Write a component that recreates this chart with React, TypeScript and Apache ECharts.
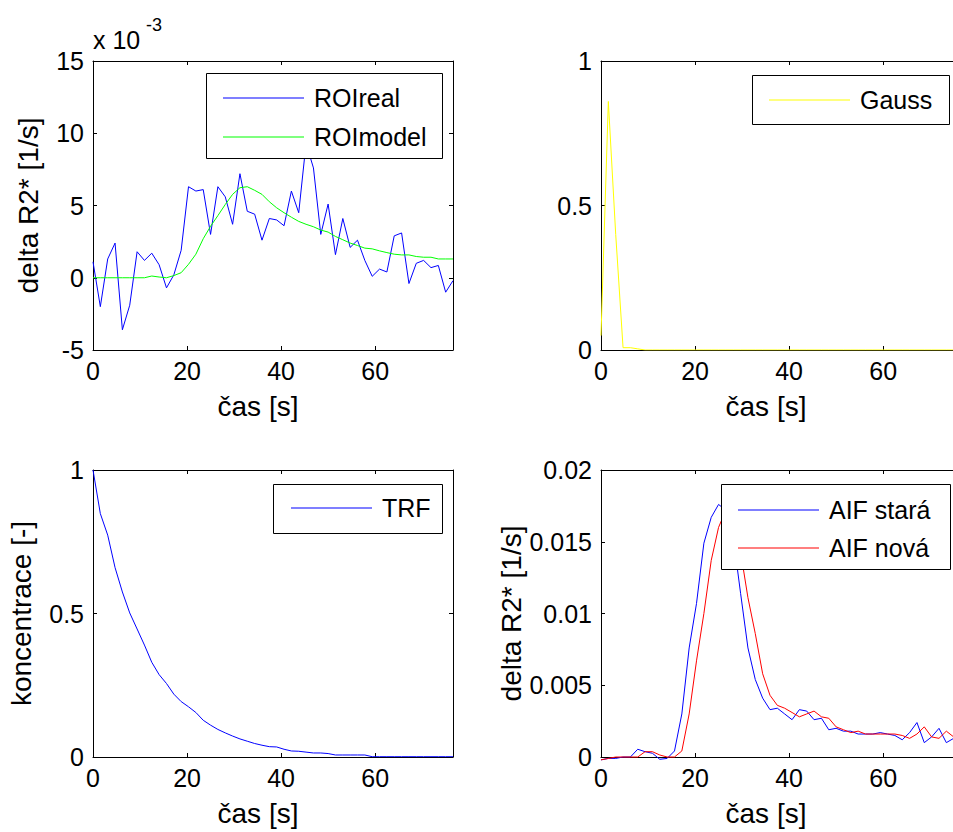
import React, { useEffect, useRef } from "react";
import * as echarts from "echarts";

const FONT = "'Liberation Sans', Arial, Helvetica, sans-serif";

// sample times [s]
const TIMES = [
  0, 1.56, 3.13, 4.69, 6.25, 7.81, 9.38, 10.94, 12.5, 14.06,
  15.63, 17.19, 18.75, 20.31, 21.88, 23.44, 25, 26.56, 28.13, 29.69,
  31.25, 32.81, 34.38, 35.94, 37.5, 39.06, 40.63, 42.19, 43.75, 45.31,
  46.88, 48.44, 50, 51.56, 53.13, 54.69, 56.25, 57.81, 59.38, 60.94,
  62.5, 64.06, 65.63, 67.19, 68.75, 70.31, 71.88, 73.44, 75, 76.56,
];
const T_MAX = 76.56;
const X_TICKS_STEP = 20;

// top-left: values in units of 1e-3
const ROI_REAL = [
  1.1, -2.0, 1.3, 2.4, -3.6, -1.9, 1.8, 1.2, 1.7, 0.9,
  -0.7, 0.2, 1.9, 6.3, 6.0, 6.1, 3.0, 6.3, 5.6, 3.7,
  7.2, 4.6, 4.4, 2.6, 4.1, 4.0, 3.6, 6.0, 4.5, 9.3,
  7.6, 3.0, 5.1, 1.6, 4.1, 2.1, 2.6, 1.2, 0.1, 0.6,
  0.4, 2.9, 3.1, -0.4, 1.0, 1.2, 0.7, 0.85, -1.0, -0.2,
];
const ROI_MODEL = [
  0, 0, 0, 0, 0, 0, 0, 0, 0.12, 0.05,
  0, 0.15, 0.35, 0.93, 1.63, 2.7, 3.56, 4.3, 5.07, 5.77,
  6.23, 6.3, 6.05, 5.77, 5.26, 4.84, 4.5, 4.19, 3.9, 3.7,
  3.53, 3.3, 3.16, 2.86, 2.63, 2.4, 2.23, 2.05, 2.0, 1.86,
  1.74, 1.63, 1.58, 1.58, 1.47, 1.42, 1.42, 1.3, 1.3, 1.3,
];
// top-right
const GAUSS = [
  0.05, 0.86, 0.4, 0.008, 0.008, 0.004, 0, 0, 0, 0,
  0, 0, 0, 0, 0, 0, 0, 0, 0, 0,
  0, 0, 0, 0, 0, 0, 0, 0, 0, 0,
  0, 0, 0, 0, 0, 0, 0, 0, 0, 0,
  0, 0, 0, 0, 0, 0, 0, 0, 0, 0,
];
// bottom-left
const TRF = [
  1.0, 0.848, 0.773, 0.66, 0.575, 0.502, 0.446, 0.39, 0.33, 0.287,
  0.256, 0.219, 0.193, 0.175, 0.155, 0.128, 0.111, 0.096, 0.084, 0.073,
  0.063, 0.055, 0.047, 0.041, 0.036, 0.035, 0.027, 0.021, 0.02, 0.017,
  0.014, 0.014, 0.012, 0.007, 0.007, 0.007, 0.007, 0.007, 0.001, 0.001,
  0.001, 0.001, 0.001, 0.001, 0.001, 0.001, 0.001, 0.001, 0.001, 0.001,
];
// bottom-right
const AIF_OLD = [
  -0.0002, -0.0001, -0.0001, 0, 0, 0.00054, 0.00037, 0.00026, -0.00016, -0.0001,
  0.00042, 0.003, 0.0076, 0.0107, 0.0149, 0.0167, 0.0176, 0.0172, 0.0153, 0.0114,
  0.0076, 0.0054, 0.0041, 0.0033, 0.0034, 0.003, 0.0026, 0.0033, 0.0032, 0.0026,
  0.0027, 0.0019, 0.002, 0.0018, 0.0018, 0.0016, 0.0016, 0.0016, 0.0017, 0.0016,
  0.0015, 0.0012, 0.0017, 0.0024, 0.001, 0.0014, 0.002, 0.001, 0.0013, 0.0013,
];
const AIF_NEW = [
  -0.0002, -0.0001, 0, 0, 0, 0, 0.00037, 0.00037, 0.00014, 0,
  0, 0.00042, 0.003, 0.0067, 0.01, 0.0137, 0.016, 0.0172, 0.0174, 0.0143,
  0.0111, 0.0086, 0.0058, 0.0043, 0.0036, 0.0034, 0.0031, 0.0028, 0.003, 0.0032,
  0.0028, 0.0027, 0.0021, 0.0019, 0.0017, 0.0018, 0.0016, 0.0016, 0.0016, 0.0016,
  0.0016, 0.0015, 0.0013, 0.0016, 0.0021, 0.0014, 0.0013, 0.0018, 0.0014, 0.0013,
];

const GRIDS = [
  { left: 93, top: 61, width: 360, height: 289 },
  { left: 601, top: 61, width: 360, height: 289 },
  { left: 93, top: 470, width: 360, height: 287 },
  { left: 601, top: 470, width: 360, height: 287 },
];

const Y_RANGES = [
  { min: -5, max: 15, interval: 5 },
  { min: 0, max: 1, interval: 0.5 },
  { min: 0, max: 1, interval: 0.5 },
  { min: 0, max: 0.02, interval: 0.005 },
];
const Y_NAMES = ["delta R2* [1/s]", "", "koncentrace [-]", "delta R2* [1/s]"];
const Y_NAME_GAPS = [51, 40, 58, 42];
const X_NAME = "čas [s]";

const pairs = (vals: number[]) => TIMES.map((t, i) => [t, vals[i]]);

function buildOption() {
  const axisLine = { show: true, onZero: false, lineStyle: { color: "#000", width: 1 } };
  const axisTick = { show: true, inside: true, length: 4, lineStyle: { color: "#000", width: 1 } };
  const xAxis: any[] = [];
  const yAxis: any[] = [];
  GRIDS.forEach((_, g) => {
    xAxis.push({
      type: "value",
      gridIndex: g,
      position: "bottom",
      min: 0,
      max: T_MAX,
      interval: X_TICKS_STEP,
      axisLine,
      axisTick,
      splitLine: { show: false },
      axisLabel: {
        margin: 8,
        fontSize: 25,
        color: "#000",
        fontFamily: FONT,
        formatter: (v: number) => (Math.abs(v % X_TICKS_STEP) < 1e-9 ? String(v) : ""),
      },
      name: X_NAME,
      nameLocation: "middle",
      nameGap: 42,
      nameTextStyle: { fontSize: 28, color: "#000", fontFamily: FONT, padding: [0, 30, 0, 0] },
    });
    xAxis.push({
      type: "value",
      gridIndex: g,
      position: "top",
      min: 0,
      max: T_MAX,
      interval: X_TICKS_STEP,
      axisLine,
      axisTick,
      splitLine: { show: false },
      axisLabel: { show: false },
    });
    const yr = Y_RANGES[g];
    yAxis.push({
      type: "value",
      gridIndex: g,
      position: "left",
      min: yr.min,
      max: yr.max,
      interval: yr.interval,
      axisLine,
      axisTick,
      splitLine: { show: false },
      axisLabel: { margin: 9, fontSize: 25, color: "#000", fontFamily: FONT },
      name: Y_NAMES[g],
      nameLocation: "middle",
      nameGap: Y_NAME_GAPS[g],
      nameTextStyle: { fontSize: 28, color: "#000", fontFamily: FONT },
    });
    yAxis.push({
      type: "value",
      gridIndex: g,
      position: "right",
      min: yr.min,
      max: yr.max,
      interval: yr.interval,
      axisLine,
      axisTick,
      splitLine: { show: false },
      axisLabel: { show: false },
    });
  });

  const line = (name: string, vals: number[], g: number, color: string, clip = true) => ({
    name,
    type: "line",
    xAxisIndex: 2 * g,
    yAxisIndex: 2 * g,
    data: pairs(vals),
    color,
    itemStyle: { color },
    lineStyle: { color, width: 1 },
    showSymbol: false,
    symbol: "none",
    clip,
    z: 3,
  });

  const legendBase = {
    orient: "vertical",
    icon: "rect",
    itemWidth: 81,
    itemHeight: 1,
    padding: 0,
    selectedMode: false,
    z: 10,
    textStyle: { fontSize: 25, color: "#000", fontFamily: FONT, lineHeight: 26, padding: [0, 0, 0, 5] },
  };

  const box = (x: number, y: number, w: number, h: number) => ({
    type: "rect",
    z: 9,
    shape: { x, y, width: w, height: h },
    style: { fill: "#fff", stroke: "#000", lineWidth: 1 },
  });

  return {
    animation: false,
    backgroundColor: "#fff",
    textStyle: { fontFamily: FONT },
    grid: GRIDS.map((g) => ({ ...g, containLabel: false, outerBoundsMode: "none" })),
    xAxis,
    yAxis,
    legend: [
      { ...legendBase, data: ["ROIreal", "ROImodel"], left: 223, top: 85, itemGap: 13 },
      { ...legendBase, data: ["Gauss"], left: 769, top: 87 },
      { ...legendBase, data: ["TRF"], left: 291, top: 495 },
      { ...legendBase, data: ["AIF stará", "AIF nová"], left: 738, top: 497, itemGap: 12 },
    ],
    graphic: [
      box(206.5, 73.5, 236, 85),
      box(752.5, 75.5, 197, 49),
      box(273.5, 484.5, 169, 49),
      box(721.5, 484.5, 229, 85),
      {
        type: "text",
        z: 9,
        x: 93,
        y: 40,
        style: { text: "x 10", fontSize: 25, fill: "#000", fontFamily: FONT, textVerticalAlign: "middle", textAlign: "left" },
      },
      {
        type: "text",
        z: 9,
        x: 146,
        y: 25,
        style: { text: "-3", fontSize: 18, fill: "#000", fontFamily: FONT, textVerticalAlign: "middle", textAlign: "left" },
      },
    ],
    series: [
      line("ROIreal", ROI_REAL, 0, "#0000ff"),
      line("ROImodel", ROI_MODEL, 0, "#00ff00"),
      line("Gauss", GAUSS, 1, "#ffff00"),
      line("TRF", TRF, 2, "#0000ff"),
      line("AIF stará", AIF_OLD, 3, "#0000ff", false),
      line("AIF nová", AIF_NEW, 3, "#ff0000", false),
    ],
  };
}

export default function App() {
  const ref = useRef<HTMLDivElement>(null);
  useEffect(() => {
    if (!ref.current) return;
    const chart = echarts.init(ref.current, undefined, { renderer: "svg" });
    chart.setOption(buildOption() as any);
    return () => chart.dispose();
  }, []);
  return (
    <div
      ref={ref}
      style={{ position: "absolute", left: 0, top: 0, width: 953, height: 832, background: "#fff" }}
    />
  );
}
